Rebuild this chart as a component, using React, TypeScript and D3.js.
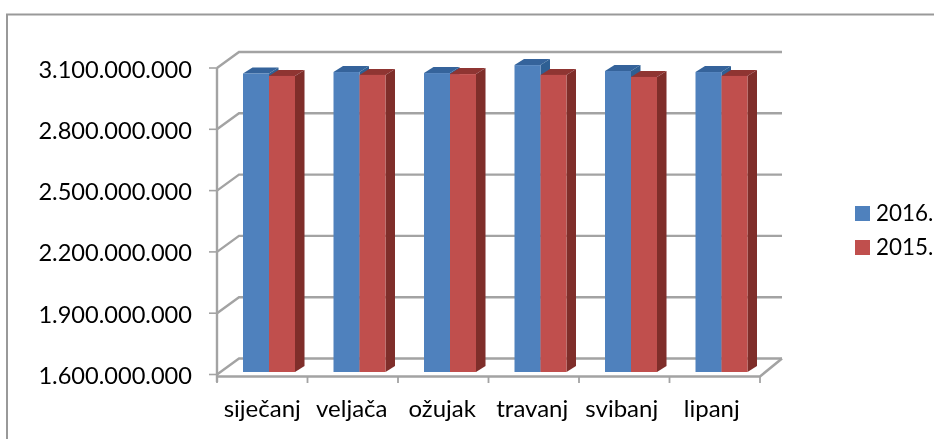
import React from "react";
import * as d3 from "d3";

const categories = ["siječanj", "veljača", "ožujak", "travanj", "svibanj", "lipanj"];
const labelNudge = [0, -1, -1, -1.5, -2.5, -3];
const series2016 = [3061000000, 3068000000, 3063000000, 3102000000, 3073000000, 3068000000];
const series2015 = [3049000000, 3054000000, 3058000000, 3054000000, 3044000000, 3049000000];
const tickValues = [1600000000, 1900000000, 2200000000, 2500000000, 2800000000, 3100000000];
const tickLabels = ["1.600.000.000", "1.900.000.000", "2.200.000.000", "2.500.000.000", "2.800.000.000", "3.100.000.000"];
const seriesNames = ["2016.", "2015."];
const seriesColors = ["#4f81bd", "#c0504d"];
const sideColors = ["#2f5f93", "#7f2e2c"];
const topColors = ["#34649b", "#8f3533"];
const FONT = "Lato, 'Noto Sans', sans-serif";
const GRID = "#a3a3a3";

export default function App() {
  const y = d3.scaleLinear().domain([1600000000, 3100000000]).range([374.5, 68]);
  const x = d3.scaleBand<string>().domain(categories).range([217, 760]);
  const dx = 22, dy = -16;         // wall depth
  const bdx = 9.5, bdy = -6;       // bar depth
  const bLift = -2.5;              // bar front plane above axis plane
  const bw = 26;
  const inset = 26;
  const floorY = 376.5;
  const bars = [series2016, series2015];
  return (
    <svg width={934} height={439} style={{ position: "absolute", left: 0, top: 0, background: "#fff" }}>
      <defs>
        <filter id="soft" x="-5%" y="-5%" width="110%" height="110%">
          <feGaussianBlur stdDeviation="0.45" />
        </filter>
        <filter id="softText" x="-5%" y="-5%" width="110%" height="110%">
          <feGaussianBlur stdDeviation="0.25" />
        </filter>
      </defs>
      <g filter="url(#soft)">
        <path d="M7,439V14.5H934" fill="none" stroke="#999" strokeWidth={2} />
        <g fill="none" stroke={GRID} strokeWidth={2.4}>
          {tickValues.map((t) => {
            const p = y(t);
            return <path key={t} d={`M217,${p}L${217 + dx},${p + dy}H${760 + dx}`} />;
          })}
          {tickValues.map((t) => (
            <line key={t} x1={209} x2={217} y1={y(t)} y2={y(t)} strokeWidth={1.6} />
          ))}
          <path d={`M217,${y(3100000000)}V382`} />
          <path d={`M217,${floorY}H760L${760 + dx},${y(1600000000) + dy}`} strokeWidth={2.6} />
          {d3.range(0, categories.length + 1).map((i) => {
            const tx = 217 + i * x.step();
            return <line key={i} x1={tx} x2={tx} y1={floorY} y2={383} strokeWidth={1.8} />;
          })}
        </g>
        {categories.map((c, i) => (
          <g key={c}>
            {bars.map((vals, s) => {
              const x0 = (x(c) as number) + inset + s * bw;
              const top = y(vals[i]) + bLift;
              const bot = y(1600000000) + bLift;
              return (
                <g key={s}>
                  <path d={`M${x0},${top}l${bdx},${bdy}h${bw}l${-bdx},${-bdy}z`} fill={topColors[s]} />
                  <path d={`M${x0 + bw},${top}l${bdx},${bdy}V${bot + bdy}l${-bdx},${-bdy}z`} fill={sideColors[s]} />
                  <rect x={x0} y={top} width={bw} height={bot - top} fill={seriesColors[s]} />
                </g>
              );
            })}
          </g>
        ))}
        {seriesNames.map((n, i) => (
          <rect key={n} x={855} y={206 + i * 34} width={15} height={15} fill={seriesColors[i]} />
        ))}
      </g>
      <g fontFamily={FONT} fill="#000" filter="url(#softText)">
        {tickValues.map((t, i) => (
          <text key={t} x={192} y={y(t) + 9.5} fontSize={23.6} textAnchor="end">{tickLabels[i]}</text>
        ))}
        {categories.map((c, i) => (
          <text key={c} x={(x(c) as number) + x.bandwidth() / 2 + labelNudge[i]} y={417.3} fontSize={24} textAnchor="middle">{c}</text>
        ))}
        {seriesNames.map((n, i) => (
          <text key={n} x={876} y={221 + i * 34} fontSize={22.4}>{n}</text>
        ))}
      </g>
    </svg>
  );
}
